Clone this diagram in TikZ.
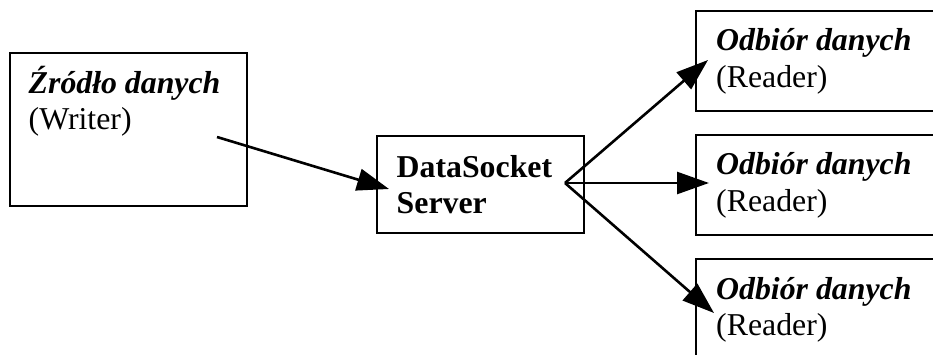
\documentclass[tikz,border=0pt]{standalone}
\usepackage{fontspec}
\setmainfont{Liberation Serif}
\usetikzlibrary{arrows.meta}
\tikzset{
  box/.style={draw=black,line width=2pt,outer sep=0pt,fill=white,inner sep=0pt,anchor=north west},
  txt/.style={inner sep=0pt,anchor=base west,align=left,font=\fontsize{31.8}{36.5}\selectfont},
  link/.style={draw=black,line width=2.6pt,-{Triangle[length=32pt,width=22pt]}}
}
\begin{document}
\begin{tikzpicture}[x=1pt,y=-1pt]
\useasboundingbox (0,0) rectangle (933,355);
\clip (0,0) rectangle (933,355);
\fill[white] (0,0) rectangle (933,355);
% boxes
\node[box,minimum width=236.5pt,minimum height=153pt] (src) at (10,53) {};
\node[box,minimum width=207.5pt,minimum height=96pt] (srv) at (376.5,136.5) {};
\node[box,minimum width=260pt,minimum height=100pt] (r1) at (695.5,11) {};
\node[box,minimum width=260pt,minimum height=100pt] (r2) at (695.5,135) {};
\node[box,minimum width=260pt,minimum height=120pt] (r3) at (695.5,259) {};
% texts
\node[txt] (tsrc) at (28.5,130) {\textbf{\textit{Źródło danych}}\\(Writer)};
\node[txt] (tsrv) at (396.5,214) {\textbf{DataSocket}\\\textbf{Server}};
\node[txt] (t1) at (716,87.5) {\textbf{\textit{Odbiór danych}}\\(Reader)};
\node[txt] (t2) at (716,211.5) {\textbf{\textit{Odbiór danych}}\\(Reader)};
\node[txt] (t3) at (716,335.5) {\textbf{\textit{Odbiór danych}}\\(Reader)};
% connector ends
\coordinate (out) at (217,137);
\coordinate (inS) at (389,189);
\coordinate (hub) at (565,183);
\coordinate (in1) at (708,60);
\coordinate (in2) at (709,183);
\coordinate (in3) at (714,313);
\draw[link] (out) -- (inS);
\draw[link] (hub) -- (in1);
\draw[link] (hub) -- (in2);
\draw[link] (hub) -- (in3);
\end{tikzpicture}
\end{document}
